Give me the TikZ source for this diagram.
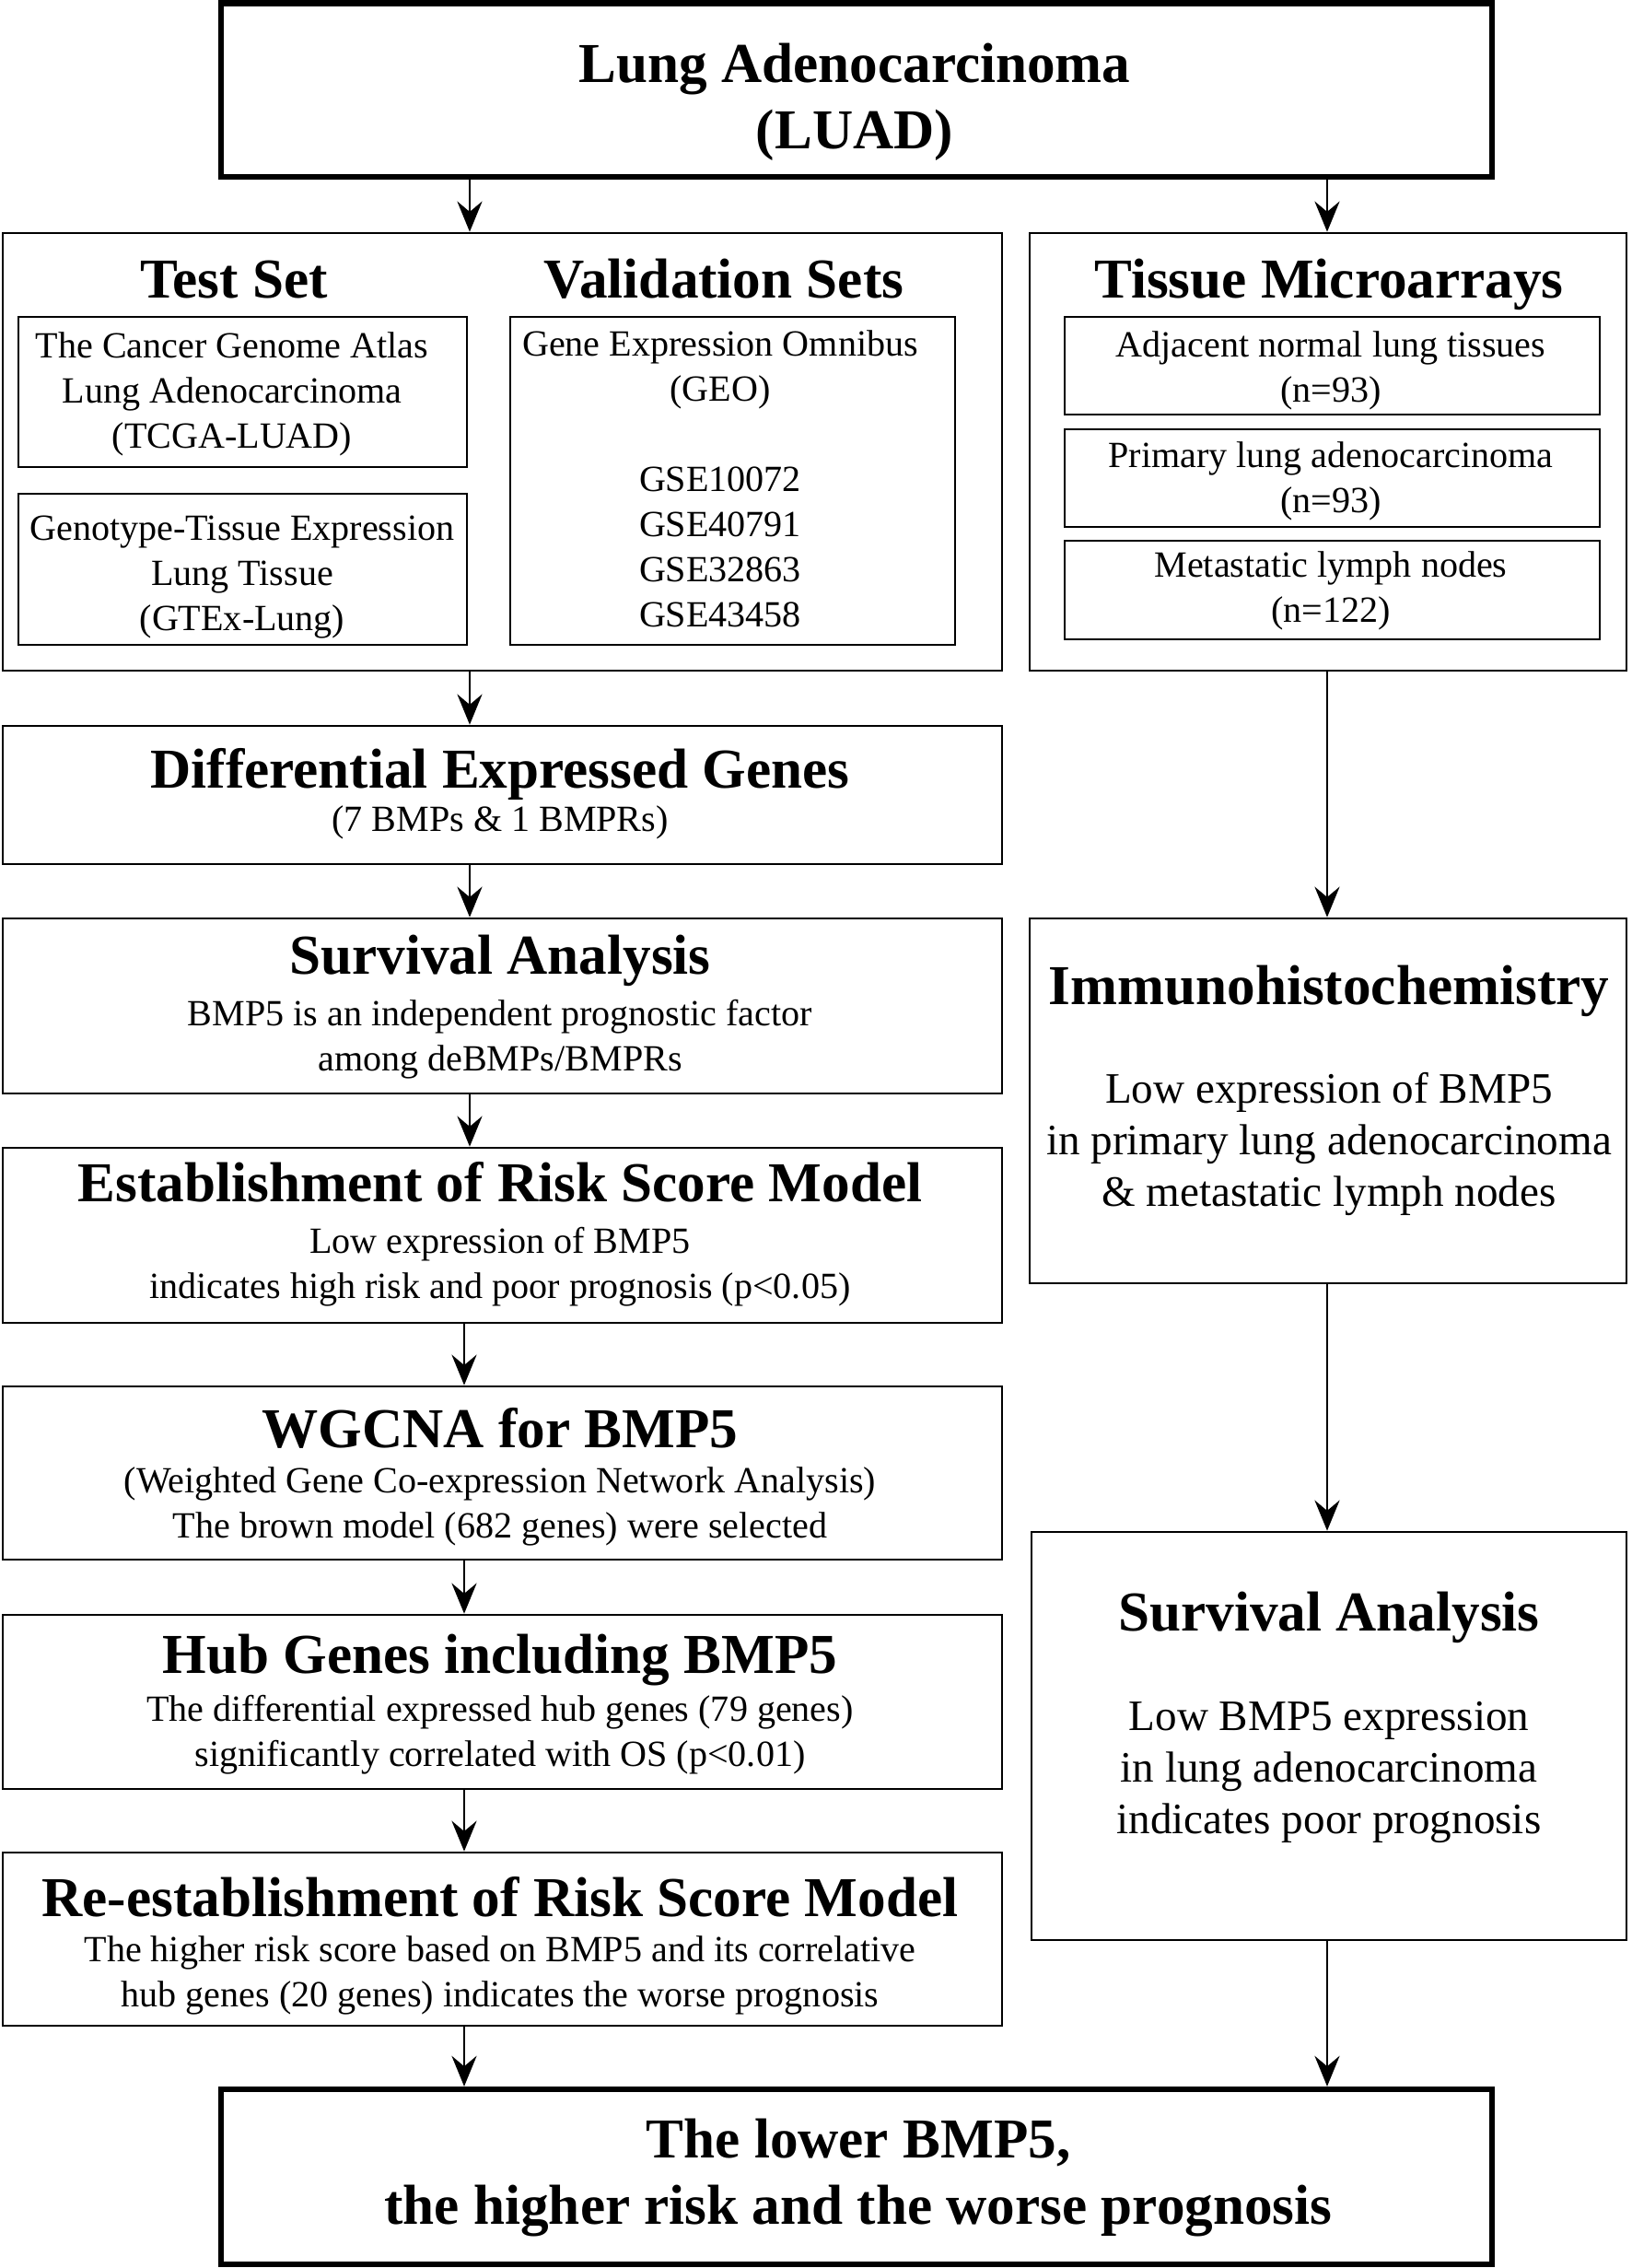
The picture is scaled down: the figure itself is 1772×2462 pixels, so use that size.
\documentclass[tikz,border=0pt]{standalone}
\usepackage{fontspec}
\setmainfont{Liberation Serif}
\usetikzlibrary{arrows.meta,fit}
\tikzset{
  box/.style={draw, line width=0.75pt, inner sep=0pt},
  bigbox/.style={draw, line width=1.8pt, inner sep=0pt},
  ttl/.style={font=\fontsize{17.4}{20.2}\selectfont\bfseries, align=center, anchor=base, inner sep=0pt},
  txt/.style={font=\fontsize{11.4}{13.9}\selectfont, align=center, anchor=base, inner sep=0pt},
  bigtxt/.style={font=\fontsize{13.4}{15.9}\selectfont, align=center, anchor=base, inner sep=0pt},
  arr/.style={line width=0.75pt, -{Stealth[length=9.4pt,width=7.7pt,inset=3.2pt]}}
}
\begin{document}
\begin{tikzpicture}[x=0.01cm,y=-0.01cm]
\useasboundingbox (0,0) rectangle (1772,2462);
%\draw[help lines,step=100] (0,0) grid (1772,2462);
% top (text nodes sit on the baseline of their last line)
\node[bigbox, fit={(240,3.5) (1620,192)}] (luad) {};
\node[ttl] (luadT) at (928,161) {Lung Adenocarcinoma\\(LUAD)};
% data sets
\node[box, fit={(3,253) (1088,728)}] (sets) {};
\node[ttl] (testT) at (254,323) {Test Set};
\node[ttl] (valT) at (786,323) {Validation Sets};
\node[box, fit={(20,344) (507,507)}] (tcga) {};
\node[box, fit={(20,536) (507,700)}] (gtex) {};
\node[box, fit={(554,344) (1037,700)}] (geo) {};
\node[txt] (tcgaT) at (252,486) {The Cancer Genome Atlas\\Lung Adenocarcinoma\\(TCGA-LUAD)};
\node[txt] (gtexT) at (263,684) {Genotype-Tissue Expression\\Lung Tissue\\(GTEx-Lung)};
\node[txt] (geoT) at (782,680) {Gene Expression Omnibus\\(GEO)\\\mbox{}\\GSE10072\\GSE40791\\GSE32863\\GSE43458};
% tissue microarrays
\node[box, fit={(1118,253) (1766,728)}] (tma) {};
\node[ttl] (tmaT) at (1443,323) {Tissue Microarrays};
\node[box, fit={(1156,344) (1737,450)}] (adj) {};
\node[box, fit={(1156,466) (1737,572)}] (prim) {};
\node[box, fit={(1156,587) (1737,694)}] (meta) {};
\node[txt] (adjT) at (1445,436) {Adjacent normal lung tissues\\(n=93)};
\node[txt] (primT) at (1445,556) {Primary lung adenocarcinoma\\(n=93)};
\node[txt] (metaT) at (1445,675) {Metastatic lymph nodes\\(n=122)};
% left column
\node[box, fit={(3,788) (1088,938)}] (deg) {};
\node[ttl] (degT) at (543,855) {Differential Expressed Genes};
\node[txt] (degS) at (543,902) {(7 BMPs \& 1 BMPRs)};
\node[box, fit={(3,997) (1088,1187)}] (surv) {};
\node[ttl] (survT) at (543,1057) {Survival Analysis};
\node[txt] (survS) at (543,1162) {BMP5 is an independent prognostic factor\\among deBMPs/BMPRs};
\node[box, fit={(3,1246) (1088,1436)}] (risk) {};
\node[ttl] (riskT) at (543,1304) {Establishment of Risk Score Model};
\node[txt] (riskS) at (543,1409) {Low expression of BMP5\\indicates high risk and poor prognosis (p<0.05)};
\node[box, fit={(3,1505) (1088,1693)}] (wgcna) {};
\node[ttl] (wgcnaT) at (543,1571) {WGCNA for BMP5};
\node[txt] (wgcnaS) at (543,1669) {(Weighted Gene Co-expression Network Analysis)\\The brown model (682 genes) were selected};
\node[box, fit={(3,1753) (1088,1942)}] (hub) {};
\node[ttl] (hubT) at (543,1816) {Hub Genes including BMP5};
\node[txt] (hubS) at (543,1917) {The differential expressed hub genes (79 genes)\\significantly correlated with OS (p<0.01)};
\node[box, fit={(3,2011) (1088,2199)}] (rerisk) {};
\node[ttl] (reriskT) at (543,2080) {Re-establishment of Risk Score Model};
\node[txt] (reriskS) at (543,2178) {The higher risk score based on BMP5 and its correlative\\hub genes (20 genes) indicates the worse prognosis};
% right column
\node[box, fit={(1118,997) (1766,1393)}] (ihc) {};
\node[ttl] (ihcT) at (1443,1090) {Immunohistochemistry};
\node[bigtxt] (ihcS) at (1443,1309) {Low expression of BMP5\\in primary lung adenocarcinoma\\\& metastatic lymph nodes};
\node[box, fit={(1120,1663) (1766,2106)}] (survR) {};
\node[ttl] (survRT) at (1443,1770) {Survival Analysis};
\node[bigtxt] (survRS) at (1443,1990) {Low BMP5 expression\\in lung adenocarcinoma\\indicates poor prognosis};
% conclusion
\node[bigbox, fit={(240,2268) (1620,2458)}] (concl) {};
\node[ttl] (conclT) at (932,2414) {The lower BMP5,\\the higher risk and the worse prognosis};
% arrows
\coordinate (colL) at (510,0);
\coordinate (colLb) at (504,0);
\coordinate (colR) at (1441,0);
\draw[arr] (luad.south -| colL) -- (sets.north -| colL);
\draw[arr] (luad.south -| colR) -- (tma.north -| colR);
\draw[arr] (sets.south -| colL) -- (deg.north -| colL);
\draw[arr] (deg.south -| colL) -- (surv.north -| colL);
\draw[arr] (surv.south -| colL) -- (risk.north -| colL);
\draw[arr] (risk.south -| colLb) -- (wgcna.north -| colLb);
\draw[arr] (wgcna.south -| colLb) -- (hub.north -| colLb);
\draw[arr] (hub.south -| colLb) -- (rerisk.north -| colLb);
\draw[arr] (rerisk.south -| colLb) -- (concl.north -| colLb);
\draw[arr] (tma.south -| colR) -- (ihc.north -| colR);
\draw[arr] (ihc.south -| colR) -- (survR.north -| colR);
\draw[arr] (survR.south -| colR) -- (concl.north -| colR);
\end{tikzpicture}
\end{document}
